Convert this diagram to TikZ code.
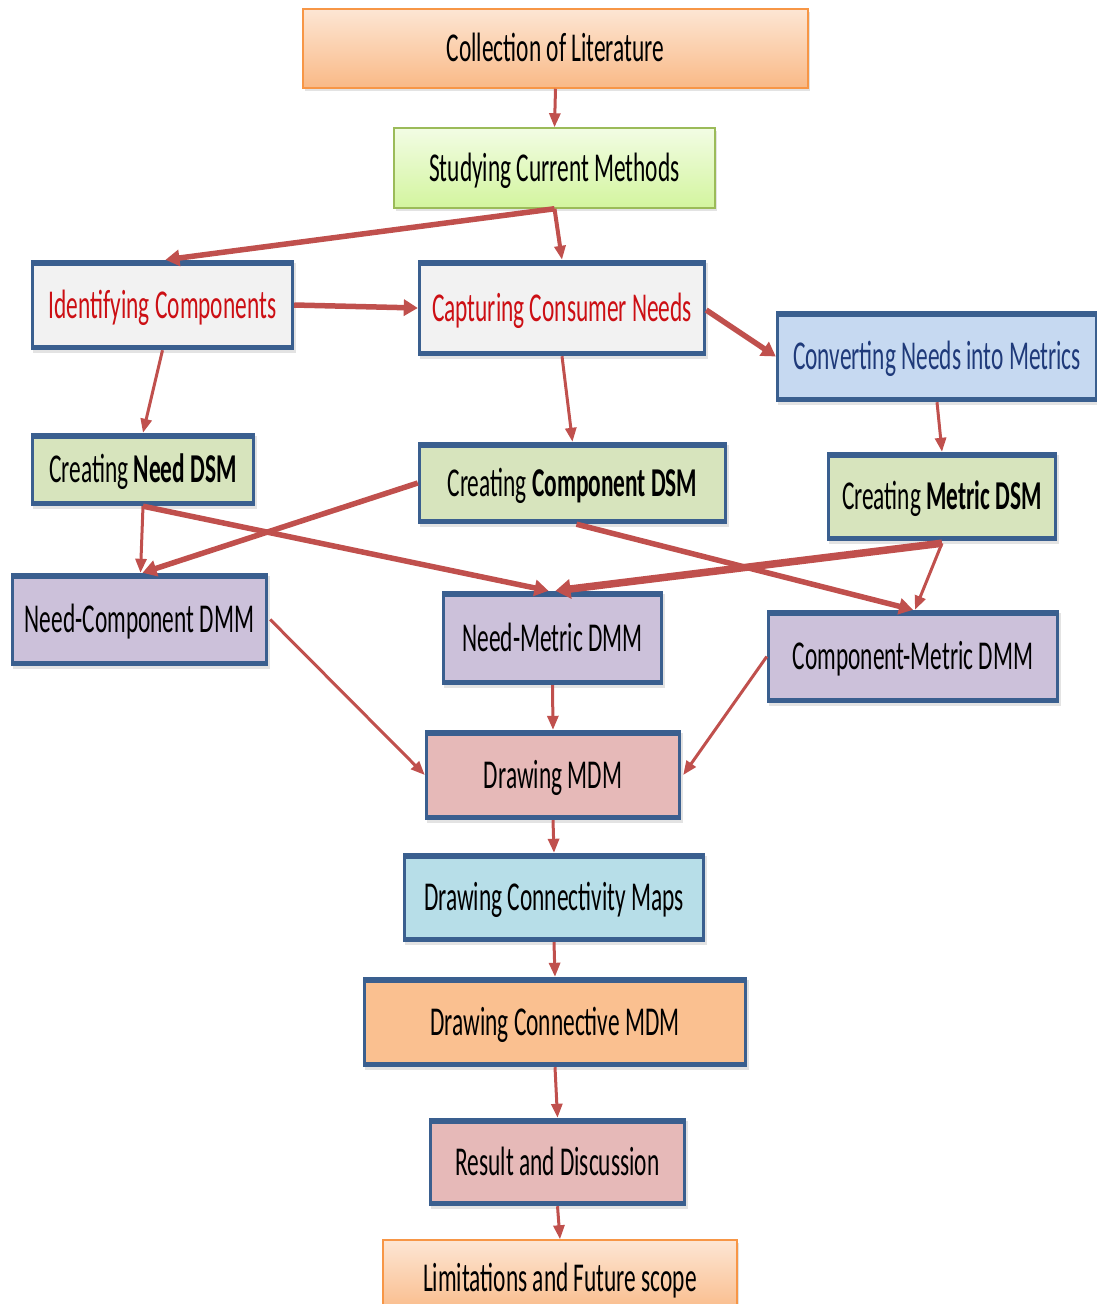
\documentclass[tikz,border=0pt]{standalone}
\usepackage{fontspec}
\setmainfont{Carlito}[FakeStretch=0.57]
\usetikzlibrary{arrows.meta,shadows,calc}

\definecolor{frame}{HTML}{3A5F8F}
\definecolor{arrowred}{HTML}{C0504D}
\definecolor{paleGray}{HTML}{F2F2F2}
\definecolor{paleBlue}{HTML}{C6D9F1}
\definecolor{dsmGreen}{HTML}{D7E4BD}
\definecolor{dmmLilac}{HTML}{CCC1DA}
\definecolor{rose}{HTML}{E6B9B8}
\definecolor{aqua}{HTML}{B7DEE8}
\definecolor{apricot}{HTML}{FAC090}
\definecolor{peachTop}{HTML}{FDE6D4}
\definecolor{peachBot}{HTML}{F9B986}
\definecolor{peachLine}{HTML}{F79646}
\definecolor{limeTop}{HTML}{F2FCE4}
\definecolor{limeBot}{HTML}{D3F59E}
\definecolor{limeLine}{HTML}{9BBB59}
\definecolor{needRed}{HTML}{CC0F14}
\definecolor{navy}{HTML}{1F3A7A}

\tikzset{
  boxbase/.style={rectangle, inner sep=0pt, text height=30pt, text depth=4pt,
    font=\fontsize{41pt}{48pt}\selectfont,
    drop shadow={shadow xshift=2pt, shadow yshift=-3pt, opacity=0.22}},
  bluebox/.style={boxbase, fill=frame,
    path picture={\fill[#1]
      ([shift={(3pt,5.5pt)}]path picture bounding box.south west) rectangle
      ([shift={(-3pt,-5.5pt)}]path picture bounding box.north east);}},
  gradbox/.style n args={3}{boxbase, top color=#1, bottom color=#2,
    draw=#3, line width=1.5pt},
  flow/.style={draw=arrowred, line width=3pt,
    -{Triangle[length=14pt,width=11pt]}},
  heavy/.style={draw=arrowred, line width=5.5pt,
    -{Triangle[length=14pt,width=16pt]}},
  heaviest/.style={draw=arrowred, line width=7.5pt,
    -{Triangle[length=15pt,width=19pt]}},
}

\begin{document}
\begin{tikzpicture}[x=1pt,y=-1pt]
\useasboundingbox (0,0) rectangle (1096,1304);

% process boxes
\node[gradbox={peachTop}{peachBot}{peachLine}, minimum width=505pt, minimum height=79pt]
  (coll) at (555.5,48.5) {Collection of Literature};
\node[gradbox={limeTop}{limeBot}{limeLine}, minimum width=321pt, minimum height=80pt]
  (stud) at (554.5,168) {Studying Current Methods};

\node[bluebox=paleGray, text=needRed, minimum width=263pt, minimum height=90pt]
  (iden) at (162.5,305) {Identifying Components};
\node[bluebox=paleGray, text=needRed, minimum width=288pt, minimum height=96pt]
  (capt) at (562,308) {Capturing Consumer Needs};
\node[bluebox=paleBlue, text=navy, minimum width=322pt, minimum height=91pt]
  (conv) at (937,356.5) {Converting Needs into Metrics};

\node[bluebox=dsmGreen, minimum width=224pt, minimum height=73pt]
  (ndsm) at (143,469.5) {Creating \textbf{Need DSM}};
\node[bluebox=dsmGreen, minimum width=309pt, minimum height=82pt]
  (cdsm) at (572.5,483) {Creating \textbf{Component DSM}};
\node[bluebox=dsmGreen, minimum width=230pt, minimum height=89pt]
  (mdsm) at (942,496.5) {Creating \textbf{Metric DSM}};

\node[bluebox=dmmLilac, minimum width=257pt, minimum height=93pt]
  (ncdmm) at (139.5,619.5) {Need-Component DMM};
\node[bluebox=dmmLilac, minimum width=221pt, minimum height=94pt]
  (nmdmm) at (552.5,638) {Need-Metric DMM};
\node[bluebox=dmmLilac, minimum width=292pt, minimum height=93pt]
  (cmdmm) at (913,656.5) {Component-Metric DMM};

\node[bluebox=rose, minimum width=256pt, minimum height=90pt]
  (mdm) at (553,775) {Drawing MDM};
\node[bluebox=aqua, minimum width=302pt, minimum height=89pt]
  (maps) at (554,897.5) {Drawing Connectivity Maps};
\node[bluebox=apricot, minimum width=384pt, minimum height=90pt]
  (cmdm) at (555,1022) {Drawing Connective MDM};
\node[bluebox=rose, minimum width=257pt, minimum height=88pt]
  (res) at (557.5,1162) {Result and Discussion};
\node[gradbox={peachTop}{peachBot}{peachLine}, minimum width=354pt, minimum height=76pt]
  (lim) at (560,1278) {Limitations and Future scope};

% connectors
\draw[flow] (coll.south) -- (stud.north);
\draw[heavy] (stud.south) -- ([xshift=3pt]iden.north);
\draw[flow, line width=4pt] (stud.south) -- (capt.north);
\draw[heavy] (iden.east) -- (capt.west);
\draw[heavy] ([yshift=-2pt]capt.east) -- (conv.west);

\draw[flow] (iden.south) -- (ndsm.north);
\draw[flow] (capt.south) -- (cdsm.north);
\draw[flow] (conv.south) -- (mdsm.north);

\draw[flow] (ndsm.south) -- ([xshift=1pt]ncdmm.north);
\draw[heavy] (ndsm.south) -- ([xshift=-4pt]nmdmm.north);
\draw[heavy] (cdsm.west) -- ([xshift=3pt]ncdmm.north);
\draw[heavy] ([xshift=4pt]cdsm.south) -- (cmdmm.north);
\draw[heaviest] ([yshift=-2pt]mdsm.south) -- ([xshift=3pt]nmdmm.north);
\draw[flow] ([yshift=-2pt]mdsm.south) -- ([xshift=2pt]cmdmm.north);

\draw[flow] ([xshift=2pt]ncdmm.east) -- (mdm.west);
\draw[flow] (nmdmm.south) -- (mdm.north);
\draw[flow] (cmdmm.west) -- ([xshift=2pt]mdm.east);

\draw[flow] (mdm.south) -- (maps.north);
\draw[flow] (maps.south) -- (cmdm.north);
\draw[flow] (cmdm.south) -- (res.north);
\draw[flow] (res.south) -- (lim.north);
\end{tikzpicture}
\end{document}
